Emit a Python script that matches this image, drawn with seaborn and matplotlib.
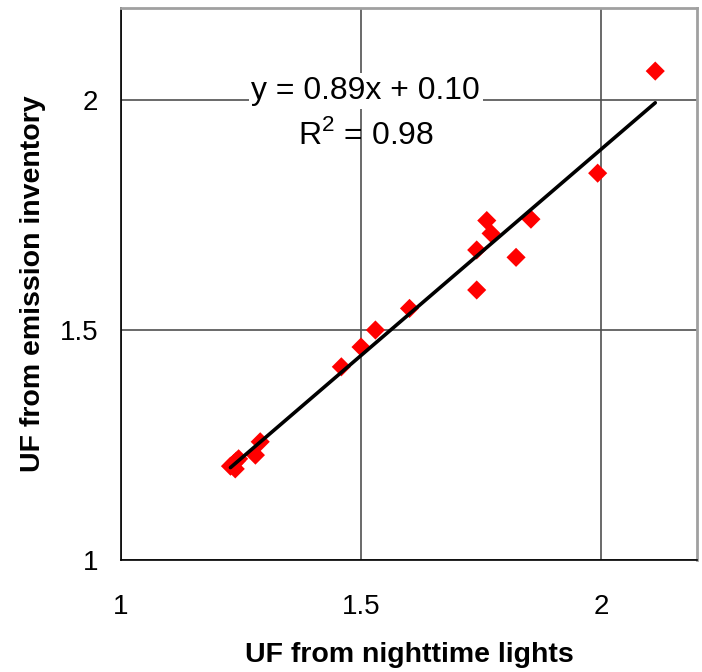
import numpy as np
import pandas as pd
import matplotlib
matplotlib.use("Agg")
import matplotlib.pyplot as plt
import seaborn as sns

# UF values
uf_lights = [1.228, 1.235, 1.240, 1.245, 1.238, 1.280, 1.290,
             1.459, 1.500, 1.530, 1.601,
             1.741, 1.741, 1.762, 1.771, 1.823, 1.854, 1.993, 2.113]
uf_inventory = [1.204, 1.210, 1.215, 1.220, 1.198, 1.228, 1.257,
                1.420, 1.463, 1.500, 1.547,
                1.674, 1.587, 1.738, 1.710, 1.658, 1.741, 1.841, 2.063]
ticks = [1, 1.5, 2]
tick_labels = ["1", "1.5", "2"]
eq_text = "y = 0.89x + 0.10"
r2_text = "R$^2$ = 0.98"

df = pd.DataFrame({"lights": uf_lights, "inventory": uf_inventory})

sns.set_style("white")
plt.rcParams['font.family'] = ['Liberation Sans', 'DejaVu Sans']
plt.rcParams['mathtext.fontset'] = 'custom'
plt.rcParams['mathtext.rm'] = 'Liberation Sans'
plt.rcParams['text.color'] = 'black'
plt.rcParams['axes.labelcolor'] = 'black'
plt.rcParams['xtick.color'] = 'black'
plt.rcParams['ytick.color'] = 'black'

fig = plt.figure(figsize=(7.02, 6.72), dpi=100)
ax = fig.add_axes([0.1724, 0.1667, 0.8205, 0.8213])

sns.scatterplot(data=df, x="lights", y="inventory", marker="D", s=95,
                color="#ff0000", edgecolor="none", ax=ax, zorder=3)

# fitted trend line over data range
coef = np.polyfit(df["lights"], df["inventory"], 1)
xs = np.array([df["lights"].min(), df["lights"].max()])
sns.lineplot(x=xs, y=np.polyval(coef, xs), color="black", linewidth=2.6,
             ax=ax, zorder=4)

ax.set_xlim(1, 2.2)
ax.set_ylim(1, 2.2)
ax.set_xticks(ticks)
ax.set_xticklabels(tick_labels)
ax.set_yticks(ticks)
ax.set_yticklabels(tick_labels)
ax.tick_params(axis="both", direction="out", length=6.5, width=1,
               color="black", labelcolor="black", labelsize=20)
ax.tick_params(axis="x", pad=18)
ax.tick_params(axis="y", pad=10)

ax.grid(True, color="#505050", linewidth=1.2)
ax.set_axisbelow(True)
for side in ["left", "bottom"]:
    ax.spines[side].set_color("black")
    ax.spines[side].set_linewidth(1.2)
for side in ["top", "right"]:
    ax.spines[side].set_color("#a0a0a0")
    ax.spines[side].set_linewidth(2)

ax.set_xlabel("UF from nighttime lights", fontsize=20.5, fontweight="bold",
              labelpad=16)
ax.set_ylabel("UF from emission inventory", fontsize=20.5, fontweight="bold",
              labelpad=10)

ax.text(1.51, 2.02, eq_text, fontsize=23, ha="center", va="center",
        bbox=dict(facecolor="white", edgecolor="none", pad=2), zorder=5)
ax.text(1.51, 1.925, r2_text, fontsize=23, ha="center", va="center", zorder=5)

fig.savefig("out.png", dpi=100)
